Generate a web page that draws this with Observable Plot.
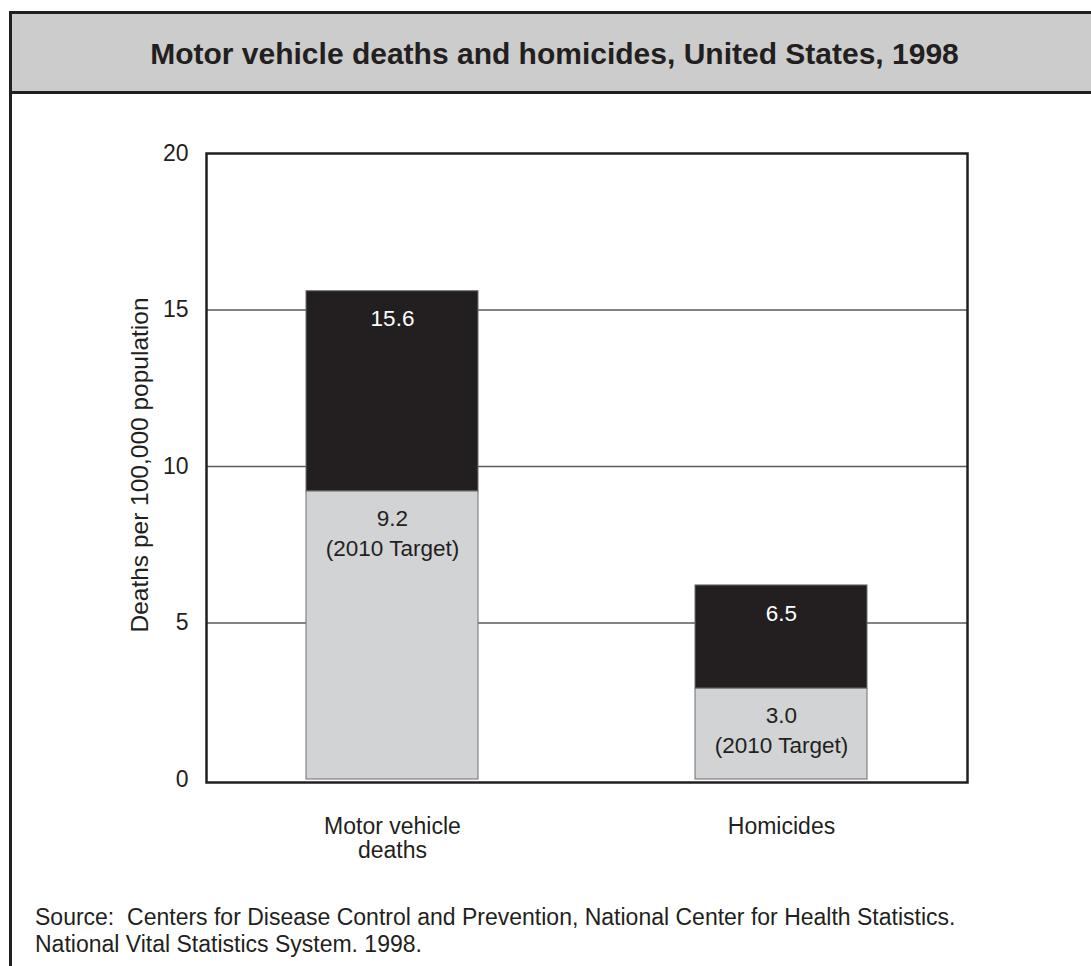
<!DOCTYPE html>
<html>
<head>
<meta charset="utf-8">
<script src="https://cdn.jsdelivr.net/npm/d3@7"></script>
<script src="https://cdn.jsdelivr.net/npm/@observablehq/plot@0.6"></script>
<style>
  html, body { margin: 0; padding: 0; background: #fff; width: 1091px; height: 966px; overflow: hidden; }
  body { position: relative; font-family: "Liberation Sans", Arial, Helvetica, sans-serif; color: #231f20; }
  #box { position: absolute; left: 9px; top: 11px; width: 1085px; height: 1000px; border: 3px solid #231f20; }
  #titlebar { position: absolute; left: 0; top: 0; right: 0; height: 74px; background: #cccccc; border-bottom: 3px solid #231f20;
    display: flex; align-items: center; justify-content: center; font-weight: bold; font-size: 30px; padding-top: 3px; box-sizing: content-box; }
  #chart { position: absolute; left: 0; top: 100px; }
  #caption { position: absolute; left: 35px; top: 904px; font-size: 23px; line-height: 27px; }
</style>
</head>
<body>
<div id="box"><div id="titlebar">Motor vehicle deaths and homicides, United States, 1998</div></div>
<div id="chart"></div>
<div id="caption">Source:&nbsp; Centers for Disease Control and Prevention, National Center for Health Statistics.<br>National Vital Statistics System. 1998.</div>
<script>
// Data
const categories = ["Motor vehicle deaths", "Homicides"];
const categoryLabels = ["Motor vehicle\ndeaths", "Homicides"];
const rates1998 = [15.6, 6.2];        // drawn bar tops
const targets2010 = [9.2, 2.9];       // drawn target tops
const rateLabels = ["15.6", "6.5"];
const targetLabels = ["9.2", "3.0"];
const yTicks = [0, 5, 10, 15, 20];
const gridTicks = [5, 10, 15];
const yLabel = "Deaths per 100,000 population";

const rows = categories.map((c, i) => ({
  cat: c, rate: rates1998[i], target: targets2010[i],
  rateLabel: rateLabels[i], targetLabel: targetLabels[i]
}));

const dark = "#231f20", light = "#d1d3d4";

const chart = Plot.plot({
  width: 1091,
  height: 780,
  marginLeft: 206,
  marginRight: 124,
  marginTop: 53,
  marginBottom: 98,
  style: { background: "transparent", fontFamily: "'Liberation Sans', Arial, Helvetica, sans-serif", color: dark, overflow: "visible" },
  x: { domain: categories, paddingInner: 0.558, paddingOuter: 0.257, label: null },
  y: { domain: [0, 20], range: [679, 53], label: null },
  marks: [
    Plot.ruleY(gridTicks, { stroke: "#58595b", strokeWidth: 1.3 }),
    Plot.barY(rows, { x: "cat", y1: "target", y2: "rate", fill: dark, stroke: "#6d6e71", strokeWidth: 1, insetLeft: 0, insetRight: 0 }),
    Plot.barY(rows, { x: "cat", y1: 0, y2: "target", fill: light, stroke: "#6d6e71", strokeWidth: 1, insetLeft: 0, insetRight: 0 }),
    Plot.text(rows, { x: "cat", y: "rate", text: "rateLabel", dy: 28, fill: "white", fontSize: 22.5 }),
    Plot.text(rows, { x: "cat", y: "target", text: "targetLabel", dy: 27, fill: dark, fontSize: 22.5 }),
    Plot.text(rows, { x: "cat", y: "target", text: () => "(2010 Target)", dy: 57, fill: dark, fontSize: 22.5 }),
    Plot.frame({ stroke: dark, strokeWidth: 2.5 }),
    Plot.axisY(yTicks, { tickSize: 0, tickPadding: 18, fontSize: 23, label: null, tickFormat: d => String(d) }),
    Plot.axisX({ tickSize: 0, tickPadding: 34, fontSize: 23, label: null, lineHeight: 1.05,
      tickFormat: d => categoryLabels[categories.indexOf(d)] }),
    Plot.text([yLabel], { frameAnchor: "left", textAnchor: "middle", dx: -66, dy: -3, rotate: -90, fontSize: 24.5, fill: dark })
  ]
});
document.getElementById("chart").appendChild(chart);
</script>
</body>
</html>
